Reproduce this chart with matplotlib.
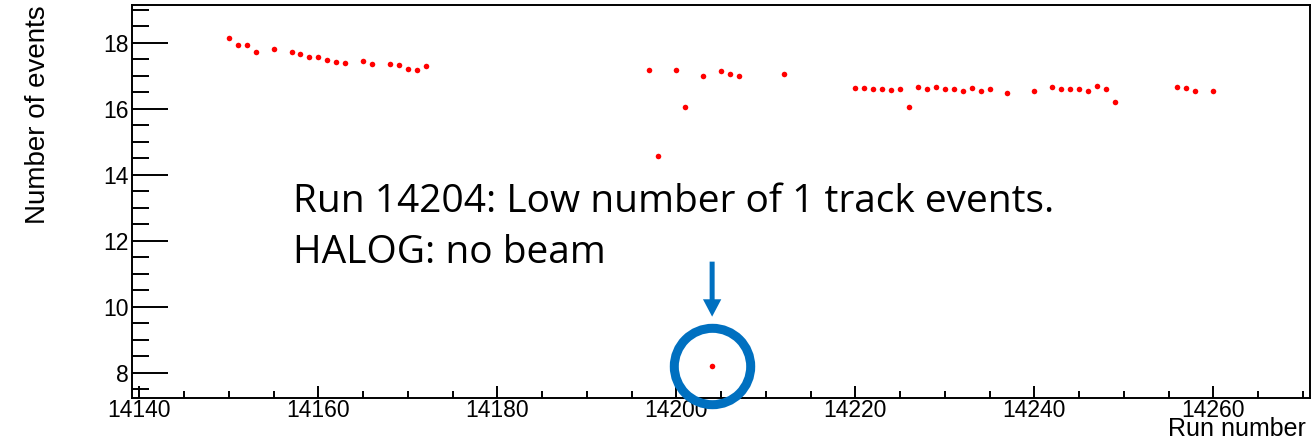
'''
run quality plot: number of 1-track events per run
'''
import numpy as np
import matplotlib
matplotlib.use('Agg')
import matplotlib.pyplot as plt
from matplotlib.ticker import MultipleLocator

run_number = [14150, 14151, 14152, 14153, 14155, 14157, 14158, 14159, 14160,
              14161, 14162, 14163, 14165, 14166, 14168, 14169, 14170, 14171,
              14172,
              14197, 14198, 14200, 14201, 14203, 14204, 14205, 14206, 14207,
              14212,
              14220, 14221, 14222, 14223, 14224, 14225, 14226, 14227, 14228,
              14229, 14230, 14231, 14232, 14233, 14234, 14235, 14237, 14240,
              14242, 14243, 14244, 14245, 14246, 14247, 14248, 14249, 14256,
              14257, 14258, 14260]
n_events = [18.15, 17.93, 17.94, 17.71, 17.81, 17.71, 17.66, 17.57, 17.55,
            17.48, 17.41, 17.39, 17.43, 17.36, 17.35, 17.33, 17.20, 17.18,
            17.29,
            17.18, 14.57, 17.18, 16.04, 16.99, 8.21, 17.15, 17.04, 16.98,
            17.04,
            16.62, 16.61, 16.58, 16.58, 16.56, 16.58, 16.06, 16.65, 16.58,
            16.64, 16.58, 16.58, 16.54, 16.63, 16.54, 16.59, 16.47, 16.52,
            16.64, 16.60, 16.58, 16.58, 16.53, 16.68, 16.60, 16.19, 16.65,
            16.62, 16.54, 16.52]

bad_run = 14204
note_lines = ["Run 14204: Low number of 1 track events.", "HALOG: no beam"]

blue = '#0070C0'
plt.rcParams['font.family'] = ['Liberation Sans', 'DejaVu Sans']

fig = plt.figure(figsize=(13.11, 4.41), dpi=100)
ax = fig.add_axes([0.1005, 0.0968, 0.8987, 0.8919])

ax.plot(run_number, n_events, 'o', color='red', markersize=4,
        markeredgewidth=0, zorder=3)

ax.set_xlim(14139.15, 14270.8)
ax.set_ylim(7.22, 19.14)

ax.xaxis.set_major_locator(MultipleLocator(20))
ax.xaxis.set_minor_locator(MultipleLocator(5))
ax.yaxis.set_major_locator(MultipleLocator(2))
ax.yaxis.set_minor_locator(MultipleLocator(0.5))

for s in ax.spines.values():
    s.set_linewidth(1.4)
ax.tick_params(axis='both', which='both', direction='in', width=1.4,
               labelsize=16.5, top=False, right=False)
ax.tick_params(axis='x', which='major', length=8.4, pad=0.5)
ax.tick_params(axis='x', which='minor', length=4.8)
ax.tick_params(axis='y', which='major', length=26, pad=2)
ax.tick_params(axis='y', which='minor', length=12.5)

ax.set_ylabel('Number of events', fontsize=20, loc='top', labelpad=38)
fig.text(1306 / 1311, 1 - 435.5 / 441, 'Run number', fontsize=18,
         ha='right', va='baseline')

# circle + arrow around the bad run
i = run_number.index(bad_run)
bx, by = run_number[i], n_events[i]
ax.plot(bx, by, 'o', markersize=55, fillstyle='none', markeredgecolor=blue,
        markeredgewidth=6.5, zorder=4, clip_on=False)
ax.annotate('', xy=(bx, by), xytext=(0, 104 * 0.72), textcoords='offset points',
            arrowprops=dict(arrowstyle='simple,head_length=12.5,head_width=13.2,tail_width=3.6',
                            mutation_scale=1, color=blue, lw=0,
                            shrinkA=0, shrinkB=49 * 0.72))

fig.text(293 / 1311, 1 - 212 / 441, note_lines[0], fontsize=28,
         family=['Open Sans', 'DejaVu Sans'], va='baseline')
fig.text(293 / 1311, 1 - 263 / 441, note_lines[1], fontsize=28,
         family=['Open Sans', 'DejaVu Sans'], va='baseline')

fig.savefig('out.png', dpi=100)
